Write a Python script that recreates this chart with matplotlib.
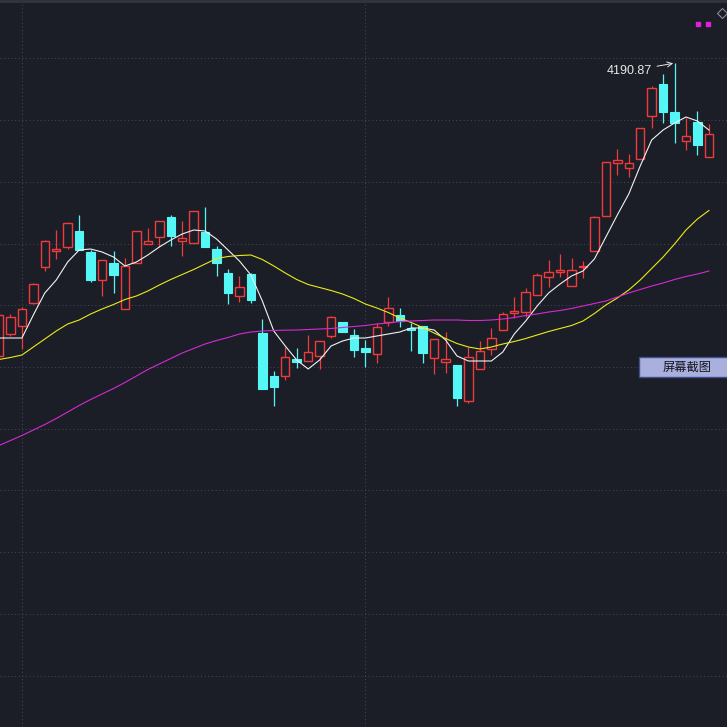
import numpy as np
import matplotlib
matplotlib.use("Agg")
import matplotlib.pyplot as plt
from matplotlib.patches import Rectangle
from matplotlib.lines import Line2D

# daily K-line, oldest first (price units)
opens = [3898, 3920, 3928, 3951, 3987, 4003, 4007, 4023, 4002, 3974,
         3991, 3945, 3991, 4010, 4017, 4037, 4013, 4011, 4022, 4005,
         3981, 3958, 3980, 3921, 3878, 3878, 3895, 3893, 3898, 3918,
         3932, 3919, 3906, 3900, 3932, 3939, 3926, 3928, 3896, 3892,
         3889, 3853, 3885, 3905, 3924, 3941, 3942, 3959, 3977, 3982,
         3968, 3987, 4003, 4038, 4091, 4086, 4095, 4138, 4170, 4142,
         4113, 4132, 4097]
highs = [3941, 3940, 3947, 3971, 4014, 4024, 4032, 4039, 4004, 3994,
         4003, 3996, 4023, 4026, 4033, 4039, 4033, 4043, 4047, 4008,
         3985, 3978, 3981, 3935, 3883, 3907, 3906, 3919, 3913, 3938,
         3932, 3925, 3914, 3931, 3957, 3946, 3931, 3928, 3915, 3922,
         3889, 3907, 3913, 3926, 3942, 3957, 3966, 3981, 3994, 4000,
         3996, 3993, 4038, 4092, 4105, 4100, 4126, 4168, 4180, 4190.87,
         4136, 4143, 4130]
lows = [3896, 3918, 3905, 3950, 3983, 3995, 4005, 4004, 3972, 3958,
        3961, 3945, 3991, 4010, 4007, 4008, 3998, 4011, 4007, 3978,
        3950, 3952, 3951, 3865, 3848, 3874, 3886, 3893, 3885, 3916,
        3922, 3897, 3887, 3891, 3928, 3927, 3903, 3891, 3880, 3881,
        3848, 3851, 3885, 3899, 3924, 3936, 3937, 3959, 3967, 3977,
        3968, 3976, 4003, 4038, 4079, 4077, 4095, 4126, 4131, 4111,
        4104, 4099, 4097]
closes = [3939, 3937, 3945, 3970, 4013, 4005, 4031, 4004, 3974, 3994,
          3979, 3988, 4023, 4013, 4033, 4018, 4016, 4043, 4007, 3991,
          3961, 3967, 3954, 3865, 3867, 3897, 3892, 3902, 3913, 3937,
          3922, 3904, 3902, 3927, 3946, 3933, 3924, 3901, 3915, 3895,
          3856, 3897, 3903, 3916, 3940, 3943, 3962, 3979, 3982, 3984,
          3984, 3988, 4037, 4092, 4094, 4091, 4126, 4166, 4142, 4131,
          4118, 4109, 4120]

# moving averages as drawn on the chart
ma5 = [3916, 3916, 3916, 3939, 3961, 3974, 3992, 4004, 4005, 4002,
       3997, 3988, 3992, 3999, 4007, 4014, 4020, 4024, 4023, 4015,
       4004, 3993, 3979, 3953, 3923, 3908, 3894, 3885, 3894, 3908,
       3913, 3916, 3916, 3918, 3920, 3922, 3926, 3926, 3924, 3914,
       3898, 3893, 3893, 3893, 3902, 3920, 3933, 3948, 3961, 3970,
       3978, 3983, 3995, 4017, 4039, 4060, 4088, 4114, 4124, 4131,
       4137, 4133, 4124]
ma20 = [3894.5, 3896.5, 3899, 3907, 3915, 3923, 3930, 3934, 3940, 3945,
        3949.5, 3954.5, 3958, 3963, 3969, 3974.5, 3979.5, 3984.5, 3990, 3995.5,
        3997.5, 3998.5, 3999, 3994.5, 3988, 3981, 3974.5, 3969.5, 3966.5, 3963.5,
        3960, 3955.5, 3950, 3946, 3941.5, 3936, 3931.5, 3926.5, 3921, 3915.5,
        3910.5, 3907, 3905, 3907, 3910, 3912.5, 3915.5, 3919, 3922.5, 3925.5,
        3928.5, 3933, 3940.5, 3949, 3956, 3964, 3974, 3985.5, 3997, 4010,
        4024, 4035, 4043.5]
ma60 = [3808.5, 3813.5, 3818.5, 3824, 3829.5, 3835.5, 3842, 3848.5, 3854.5, 3860,
        3865.5, 3871.5, 3878, 3884.5, 3890, 3895.5, 3901, 3905.5, 3910, 3913.5,
        3916.5, 3920, 3922, 3923, 3923.5, 3923.8, 3924, 3924.5, 3925, 3925.5,
        3926.5, 3927.5, 3928.5, 3930, 3931, 3932.5, 3933, 3933.5, 3934, 3934,
        3934, 3933.5, 3933.5, 3934, 3935, 3936.5, 3938.5, 3940, 3942, 3943.5,
        3945.5, 3948, 3950.5, 3953, 3957, 3961, 3964.5, 3968, 3971, 3974.5,
        3977.5, 3980, 3983]

month_starts = [2, 32]
peak_label = "4190.87"
button_label = "屏幕截图"

BG = "#1b1e26"
RED = "#f03a3c"
CYAN = "#55f6f6"
GRID = "#434855"

plt.rcParams.update({
    "font.family": ["Liberation Sans", "DejaVu Sans"],
    "figure.dpi": 100,
    "savefig.dpi": 100,
})


def draw_candles(ax):
    o = np.array(opens, dtype=float)
    c = np.array(closes, dtype=float)
    h = np.array(highs, dtype=float)
    l = np.array(lows, dtype=float)
    x = np.arange(len(o))
    up = c >= o
    bottom = np.minimum(o, c)
    height = np.maximum(np.abs(c - o), 1.0)
    width = 0.74

    ax.vlines(x[up], l[up], h[up], color=RED, linewidth=0.9, zorder=2)
    ax.vlines(x[~up], l[~up], h[~up], color=CYAN, linewidth=0.9, zorder=2)
    ax.bar(x[up], height[up], width=width, bottom=bottom[up],
           facecolor=BG, edgecolor=RED, linewidth=1.0, zorder=3)
    ax.bar(x[~up], height[~up], width=width, bottom=bottom[~up],
           facecolor=CYAN, edgecolor=CYAN, linewidth=0.8, zorder=3)


def draw_decor(fig):
    # top toolbar strip
    fig.add_artist(Rectangle((0, 1 - 3 / 727), 1, 3 / 727, transform=fig.transFigure,
                             facecolor="#30333d", edgecolor="none"))
    # magenta indicator dots and diamond at the top right
    fig.add_artist(Line2D([697.5 / 727, 708 / 727], [1 - 24 / 727, 1 - 24 / 727],
                          transform=fig.transFigure, linestyle="none", marker="s",
                          markersize=2.6, color="#e020e0"))
    fig.add_artist(Line2D([721.5 / 727], [1 - 13 / 727], transform=fig.transFigure,
                          linestyle="none", marker="D", markersize=5.5,
                          markerfacecolor="none", markeredgecolor="#8a8d96",
                          markeredgewidth=0.8))
    # screenshot button
    fig.add_artist(Rectangle((639 / 727, 1 - 377 / 727), 0.13, 20 / 727,
                             transform=fig.transFigure, facecolor="#aab0dd",
                             edgecolor="#3d4f8c", linewidth=1.0))
    fig.text(687 / 727, 1 - 367 / 727, button_label, ha="center", va="center",
             fontsize=8.8, color="#15151f",
             family=["Noto Sans CJK SC", "DejaVu Sans"])


def main():
    fig = plt.figure(figsize=(7.27, 7.27), facecolor=BG)
    ax = fig.add_axes([0, 0, 1, 1])
    ax.set_facecolor(BG)

    x = np.arange(len(closes))
    draw_candles(ax)
    ax.plot(x, ma5, color="#f2f2f2", linewidth=0.8, zorder=4)
    ax.plot(x, ma20, color="#eaea1a", linewidth=0.8, zorder=4)
    ax.plot(x, ma60, color="#d42ad4", linewidth=0.8, zorder=4)

    peak_i = int(np.argmax(highs))
    ax.annotate(peak_label, xy=(peak_i, highs[peak_i]), xytext=(-23, -8),
                textcoords="offset pixels", ha="right", va="center",
                fontsize=9, color="#e8e8e8",
                arrowprops=dict(arrowstyle="->", color="#e8e8e8", lw=0.7,
                                shrinkA=2, shrinkB=1))

    ax.set_xlim(0.087, 63.58)
    ax.set_ylim(3527, 4254)
    ax.set_yticks(4195.7 - 61.74 * np.arange(11))
    ax.set_xticks(month_starts)
    ax.grid(True, color=GRID, linestyle=(0, (1, 2.5)), linewidth=0.75)
    ax.set_axisbelow(True)
    ax.tick_params(left=False, bottom=False, labelleft=False, labelbottom=False)
    for s in ax.spines.values():
        s.set_visible(False)

    draw_decor(fig)
    fig.savefig("out.png", facecolor=BG)
    plt.close(fig)


if __name__ == "__main__":
    main()
